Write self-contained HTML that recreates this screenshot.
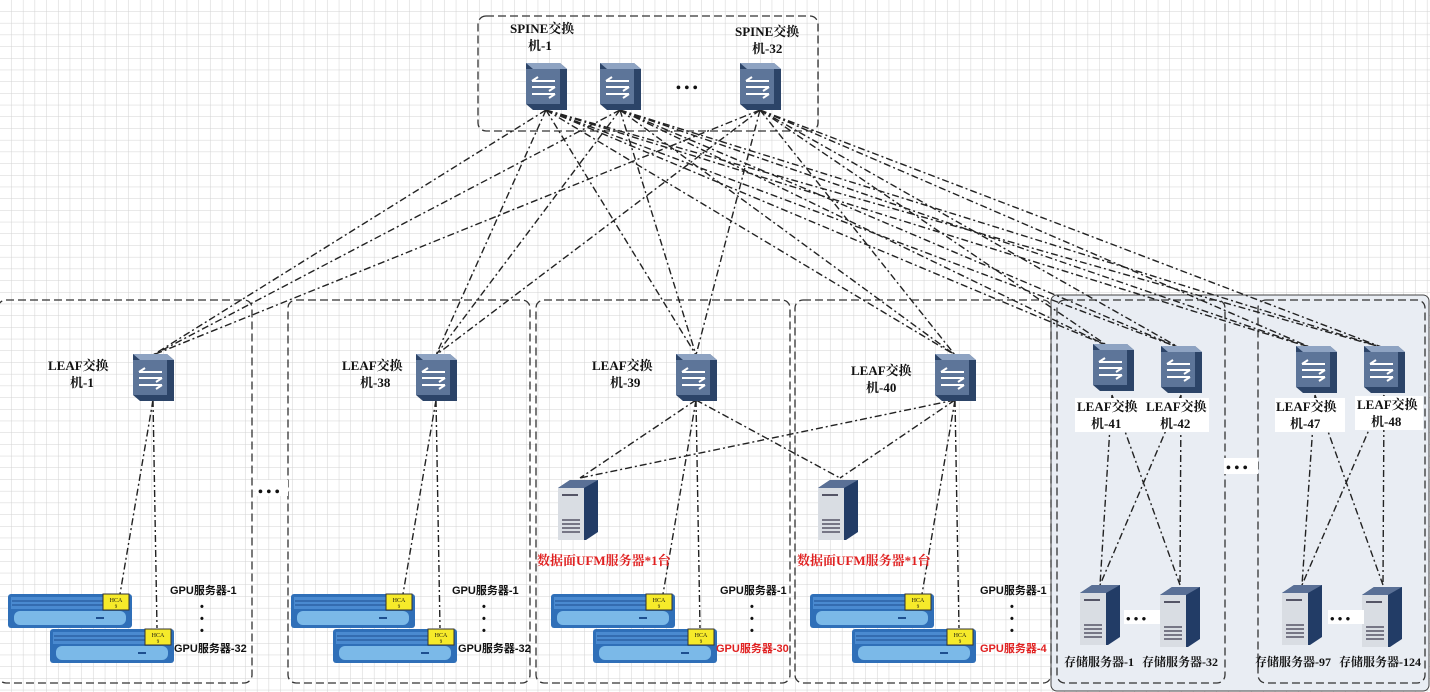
<!DOCTYPE html>
<html><head><meta charset="utf-8"><style>
html,body{margin:0;padding:0;background:#fff}
svg{display:block}
text{font-family:"Liberation Serif","Noto Serif CJK SC",serif;font-weight:bold;font-size:13px;fill:#111}
.s{font-family:"Liberation Sans","Noto Sans CJK SC",sans-serif;font-size:11px}
.red{fill:#e02020}
</style></head><body>
<svg width="1430" height="692" viewBox="0 0 1430 692" xmlns="http://www.w3.org/2000/svg">
<defs>
<pattern id="g" width="11.7" height="11.7" patternUnits="userSpaceOnUse">
<path d="M11.7 0V11.7M0 11.7H11.7" stroke="#d2d2d2" stroke-width="1" fill="none"/>
</pattern>
<g id="sw">
<path d="M-20,-24 L14,-24 L21,-18 L21,23 L-13,23 L-20,17Z" fill="#2c4468"/>
<path d="M-20,-24 L14,-24 L21,-18 L-13,-18Z" fill="#8ea3c2"/>
<rect x="-20" y="-18" width="34" height="35" fill="#5d7599"/>
<path d="M-14,-6 H9 M-14,-6 l6,-4 M9,0 H-14 M9,0 l-6,4 M-14,7 H9 M9,7 l-6,4" stroke="#fff" stroke-width="2" fill="none"/>
</g>
<g id="tower">
<path d="M0,8 L12,0 L40,0 L40,52 L28,60 L0,60Z" fill="#223c66"/>
<rect x="0" y="8" width="26" height="52" fill="#d9dde3"/>
<path d="M0,8 L12,0 L40,0 L26,8Z" fill="#5a7096"/>
<rect x="4" y="14" width="16" height="2" fill="#556"/>
<path d="M4,40h18M4,44h18M4,48h18M4,52h18" stroke="#556" stroke-width="1.5"/>
</g>
<g id="rack">
<rect x="0" y="0" width="124" height="34" rx="3" fill="#2f6fb8"/>
<rect x="3" y="3" width="118" height="12" fill="#4a8ad0"/>
<path d="M4,7H120M4,11H120" stroke="#1d4f8f" stroke-width="1"/>
<rect x="6" y="17" width="112" height="14" rx="6" fill="#7bb9e8"/>
<rect x="95" y="0" width="26" height="16" fill="#f6ea2a" stroke="#333" stroke-width="1"/>
<text x="108" y="8" text-anchor="middle" style="font-size:6px;font-weight:normal">HCA</text>
<text x="108" y="14" text-anchor="middle" style="font-size:5px;font-weight:normal">9</text>
<rect x="88" y="23" width="8" height="2" fill="#1d4f8f"/>
</g>
</defs>
<rect width="1430" height="692" fill="#fff"/>
<rect width="1430" height="692" fill="url(#g)"/>

<rect x="1051" y="295" width="378" height="396" rx="6" fill="#e9edf3" stroke="#444" stroke-width="1"/>

<g fill="none" stroke="#333" stroke-width="1.3" stroke-dasharray="8,4">
<rect x="478" y="16" width="340" height="115" rx="8"/>
<rect x="-2" y="300" width="254" height="383" rx="8"/>
<rect x="288" y="300" width="242" height="383" rx="8"/>
<rect x="536" y="300" width="254" height="383" rx="8"/>
<rect x="795" y="300" width="256" height="383" rx="8"/>
<rect x="1057" y="300" width="168" height="383" rx="8"/>
<rect x="1258" y="300" width="167" height="383" rx="8"/>
</g>

<g stroke="#222" stroke-width="1.4" stroke-dasharray="7,3,2,3" fill="none">
<path d="M546,110L153,355M546,110L436,355M546,110L696,355M546,110L955,355M546,110L1108,346M546,110L1180,348M546,110L1312,348M546,110L1384,348"/>
<path d="M620,110L153,355M620,110L436,355M620,110L696,355M620,110L955,355M620,110L1108,346M620,110L1180,348M620,110L1312,348M620,110L1384,348"/>
<path d="M760,110L153,355M760,110L436,355M760,110L696,355M760,110L955,355M760,110L1108,346M760,110L1180,348M760,110L1312,348M760,110L1384,348"/>
<path d="M153,400L120,594M153,400L157,628"/>
<path d="M436,400L403,594M436,400L440,628"/>
<path d="M696,400L663,594M696,400L700,628M696,400L580,478M696,400L840,478"/>
<path d="M955,400L922,594M955,400L959,628M955,400L580,478M955,400L840,478"/>
<path d="M1112,395L1100,585M1112,395L1180,585M1181,395L1100,585M1181,395L1180,585"/>
<path d="M1315,395L1302,585M1315,395L1383,585M1384,395L1302,585M1384,395L1383,585"/>
</g>

<use href="#sw" x="546" y="87"/>
<use href="#sw" x="620" y="87"/>
<use href="#sw" x="760" y="87"/>
<text x="676" y="92" style="font-size:14px">• • •</text>
<text x="510" y="33">SPINE交换</text><text x="528" y="50">机-1</text>
<text x="735" y="36">SPINE交换</text><text x="752" y="53">机-32</text>

<use href="#sw" x="153" y="378"/>
<use href="#sw" x="436" y="378"/>
<use href="#sw" x="696" y="378"/>
<use href="#sw" x="955" y="378"/>
<use href="#sw" x="1113" y="368"/>
<use href="#sw" x="1181" y="370"/>
<use href="#sw" x="1316" y="370"/>
<use href="#sw" x="1384" y="370"/>
<text x="48" y="370">LEAF交换</text><text x="70" y="387">机-1</text>
<text x="342" y="370">LEAF交换</text><text x="360" y="387">机-38</text>
<text x="592" y="370">LEAF交换</text><text x="610" y="387">机-39</text>
<text x="851" y="375">LEAF交换</text><text x="866" y="392">机-40</text>
<g>
<rect x="1075" y="398" width="70" height="34" fill="#fff"/>
<rect x="1143" y="398" width="66" height="34" fill="#fff"/>
<rect x="1275" y="398" width="70" height="34" fill="#fff"/>
<rect x="1355" y="396" width="68" height="34" fill="#fff"/>
</g>
<text x="1077" y="411">LEAF交换</text><text x="1091" y="428">机-41</text>
<text x="1146" y="411">LEAF交换</text><text x="1160" y="428">机-42</text>
<text x="1276" y="411">LEAF交换</text><text x="1290" y="428">机-47</text>
<text x="1357" y="409">LEAF交换</text><text x="1371" y="426">机-48</text>

<rect x="256" y="480" width="32" height="16" fill="#fff"/>
<text x="258" y="496" style="font-size:14px">• • •</text>
<rect x="1224" y="458" width="34" height="16" fill="#fff"/>
<text x="1226" y="472" style="font-size:14px">• • •</text>

<use href="#rack" x="8" y="594"/><use href="#rack" x="50" y="629"/>
<use href="#rack" x="291" y="594"/><use href="#rack" x="333" y="629"/>
<use href="#rack" x="551" y="594"/><use href="#rack" x="593" y="629"/>
<use href="#rack" x="810" y="594"/><use href="#rack" x="852" y="629"/>

<g>
<text class="s" x="170" y="594">GPU服务器-1</text><text class="s" x="200" y="610">•</text><text class="s" x="200" y="622">•</text><text class="s" x="200" y="634">•</text><text class="s" x="174" y="652">GPU服务器-32</text>
<text class="s" x="452" y="594">GPU服务器-1</text><text class="s" x="482" y="610">•</text><text class="s" x="482" y="622">•</text><text class="s" x="482" y="634">•</text><text class="s" x="458" y="652">GPU服务器-32</text>
<text class="s" x="720" y="594">GPU服务器-1</text><text class="s" x="750" y="610">•</text><text class="s" x="750" y="622">•</text><text class="s" x="750" y="634">•</text><text class="s red" x="716" y="652">GPU服务器-30</text>
<text class="s" x="980" y="594">GPU服务器-1</text><text class="s" x="1010" y="610">•</text><text class="s" x="1010" y="622">•</text><text class="s" x="1010" y="634">•</text><text class="s red" x="980" y="652">GPU服务器-4</text>
</g>

<use href="#tower" x="558" y="480"/>
<use href="#tower" x="818" y="480"/>
<text class="red" x="537" y="565">数据面UFM服务器*1台</text>
<text class="red" x="797" y="565">数据面UFM服务器*1台</text>

<use href="#tower" x="1080" y="585"/>
<use href="#tower" x="1160" y="587"/>
<use href="#tower" x="1282" y="585"/>
<use href="#tower" x="1362" y="587"/>
<rect x="1124" y="610" width="36" height="14" fill="#fff"/>
<text x="1126" y="623" style="font-size:13px">• • •</text>
<rect x="1328" y="610" width="36" height="14" fill="#fff"/>
<text x="1330" y="623" style="font-size:13px">• • •</text>
<text x="1064" y="666" style="font-size:12px">存储服务器-1</text>
<text x="1142" y="666" style="font-size:12px">存储服务器-32</text>
<text x="1255" y="666" style="font-size:12px">存储服务器-97</text>
<text x="1339" y="666" style="font-size:12px">存储服务器-124</text>
</svg>
</body></html>
